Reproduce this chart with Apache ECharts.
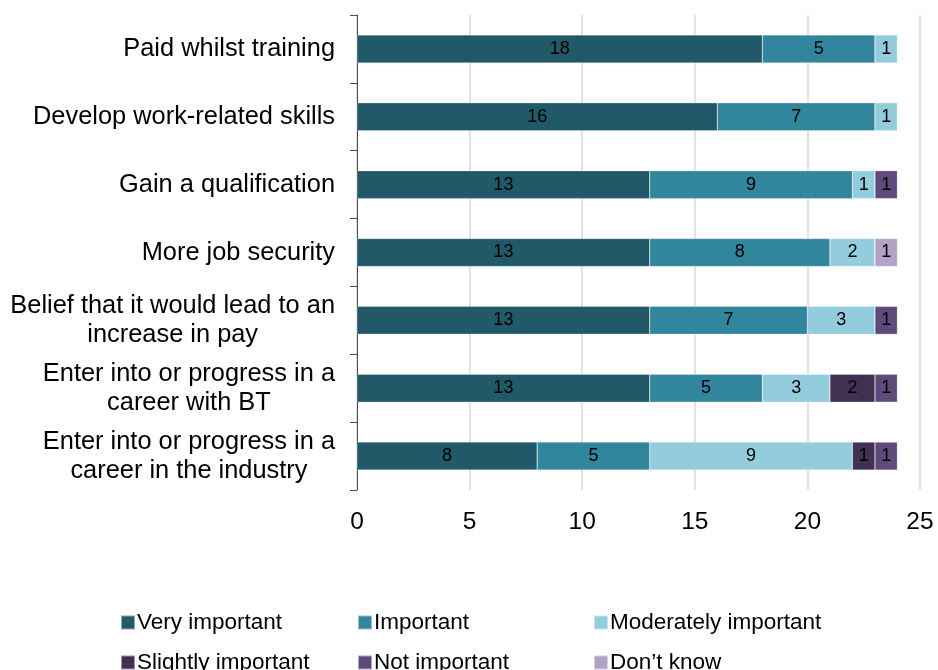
<!DOCTYPE html>
<html>
<head>
<meta charset="utf-8">
<script src="https://cdn.jsdelivr.net/npm/echarts@6/dist/echarts.min.js"></script>
<style>html,body{margin:0;padding:0;background:#fff}#c{width:938px;height:670px}</style>
</head>
<body>
<div id="c"></div>
<script>
const categories = [
  'Paid whilst training',
  'Develop work-related skills',
  'Gain a qualification',
  'More job security',
  'Belief that it would lead to an\nincrease in pay',
  'Enter into or progress in a\ncareer with BT',
  'Enter into or progress in a\ncareer in the industry'
];
const seriesNames = ['Very important','Important','Moderately important','Slightly important','Not important','Don\u2019t know'];
const veryImportant = [18,16,13,13,13,13,8];
const important = [5,7,9,8,7,5,5];
const moderatelyImportant = [1,1,1,2,3,3,9];
const slightlyImportant = [0,0,0,0,0,2,1];
const notImportant = [0,0,1,0,1,1,1];
const dontKnow = [0,0,0,1,0,0,0];
const xTicks = [0,5,10,15,20,25];

const colors = ['#215968','#31859C','#93CDDD','#403152','#604A7B','#B3A2C7'];
const values = [veryImportant, important, moderatelyImportant, slightlyImportant, notImportant, dontKnow];
const font = 'Liberation Sans, Arial, sans-serif';

const legendPos = [
  {left:120, top:611},{left:357, top:611},{left:593, top:611},
  {left:120, top:651},{left:357, top:651},{left:593, top:651}
];

const chart = echarts.init(document.getElementById('c'));
chart.setOption({
  animation:false,
  color: colors,
  grid:{left:357, right:18, top:15, bottom:180, containLabel:false},
  legend: seriesNames.map((n,i)=>({
    data:[n], left:legendPos[i].left, top:legendPos[i].top,
    itemWidth:14, itemHeight:14, itemGap:0, icon:'rect',
    padding:0,
    textStyle:{fontFamily:font, fontSize:22.5, color:'#000', padding:[0,0,0,-3]}
  })),
  xAxis:{
    type:'value', min:xTicks[0], max:xTicks[xTicks.length-1], interval:5,
    axisLine:{show:false}, axisTick:{show:false},
    splitLine:{show:true, lineStyle:{color:'#d9d9d9', width:1.5}},
    axisLabel:{fontFamily:font, fontSize:24.5, color:'#000', margin:20}
  },
  yAxis:{
    type:'category', data:categories, inverse:true,
    axisLine:{show:true, lineStyle:{color:'#4d4d4d', width:1}},
    axisTick:{show:true, length:7, inside:false, lineStyle:{color:'#4d4d4d'}},
    axisLabel:{
      fontFamily:font, fontSize:25.4, color:'#000', margin:22, lineHeight:29, align:'right',
      formatter: v => v.split('\n').map(l => '{c|' + l + '}').join('\n'),
      rich:{c:{align:'center', fontFamily:font, fontSize:25.4, color:'#000', lineHeight:29}}
    }
  },
  series: seriesNames.map((n,i)=>({
    name:n, type:'bar', stack:'total', barWidth:28,
    data: values[i],
    itemStyle:{color:colors[i], borderColor:'rgba(255,255,255,0.5)', borderWidth:0.5},
    label:{show:true, position:'inside', color:'#000', fontFamily:font, fontSize:18,
      formatter:p=>p.value ? String(p.value) : ''}
  }))
});
</script>
</body>
</html>
